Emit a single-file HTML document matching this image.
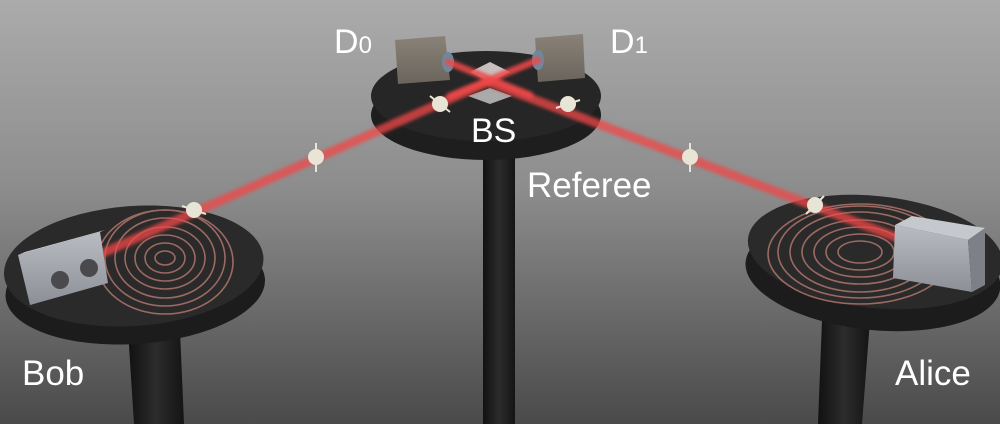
<!DOCTYPE html>
<html><head><meta charset="utf-8"><style>
html,body{margin:0;padding:0;}
body{width:1000px;height:424px;overflow:hidden;}
text{font-family:"Liberation Sans",sans-serif;fill:#fff;}
</style></head><body>
<svg width="1000" height="424" viewBox="0 0 1000 424" xmlns="http://www.w3.org/2000/svg">
<defs>
<linearGradient id="bg" x1="0" y1="0" x2="0" y2="1">
<stop offset="0" stop-color="#ababab"/><stop offset="0.45" stop-color="#8c8c8c"/><stop offset="1" stop-color="#4a4a4a"/>
</linearGradient>
<linearGradient id="post" x1="0" x2="1"><stop offset="0" stop-color="#111"/><stop offset="0.5" stop-color="#2c2c2c"/><stop offset="1" stop-color="#141414"/></linearGradient>
<linearGradient id="box" x1="0" y1="0" x2="0" y2="1"><stop offset="0" stop-color="#b9bcc2"/><stop offset="1" stop-color="#8c9096"/></linearGradient>
<linearGradient id="det" x1="0" y1="0" x2="0" y2="1"><stop offset="0" stop-color="#8a8278"/><stop offset="1" stop-color="#6a645c"/></linearGradient>
<filter id="glow" x="-10%" y="-10%" width="120%" height="120%"><feGaussianBlur stdDeviation="1.5"/></filter>
</defs>
<rect width="1000" height="424" fill="url(#bg)"/>
<!-- posts -->
<rect x="483" y="150" width="32" height="274" fill="url(#post)"/>
<polygon points="128,330 180,330 184,424 134,424" fill="url(#post)"/>
<polygon points="822,320 870,320 862,424 818,424" fill="url(#post)"/>
<!-- referee table -->
<ellipse cx="486" cy="115" rx="115" ry="45" fill="#1e1e1e"/>
<ellipse cx="486" cy="96" rx="115" ry="45" fill="#262626"/>
<!-- bob table -->
<g transform="rotate(-4 134 270)">
<ellipse cx="134" cy="288" rx="130" ry="56" fill="#1c1c1c"/>
<ellipse cx="134" cy="266" rx="130" ry="60" fill="#2a2a2a"/>
</g>
<g stroke="#b87a70" stroke-width="1.6" fill="none" opacity="0.8">
<ellipse cx="165" cy="258" rx="50" ry="40"/><ellipse cx="165" cy="258" rx="40" ry="31"/><ellipse cx="165" cy="258" rx="30" ry="23"/><ellipse cx="165" cy="258" rx="20" ry="15"/><ellipse cx="165" cy="258" rx="10" ry="7"/><ellipse cx="165" cy="258" rx="60" ry="48"/><ellipse cx="165" cy="262" rx="68" ry="52"/>
</g>
<!-- alice table -->
<g transform="rotate(6 875 255)">
<ellipse cx="875" cy="275" rx="128" ry="55" fill="#1c1c1c"/>
<ellipse cx="875" cy="252" rx="128" ry="56" fill="#2a2a2a"/>
</g>
<g stroke="#b87a70" stroke-width="1.6" fill="none" opacity="0.8">
<ellipse cx="860" cy="252" rx="70" ry="40"/><ellipse cx="860" cy="252" rx="58" ry="32"/><ellipse cx="860" cy="252" rx="46" ry="25"/><ellipse cx="860" cy="252" rx="34" ry="18"/><ellipse cx="860" cy="252" rx="22" ry="11"/><ellipse cx="860" cy="252" rx="82" ry="46"/><ellipse cx="860" cy="254" rx="92" ry="50"/>
</g>
<!-- BS -->
<polygon points="490,62 510,72 490,82 470,72" fill="#c8c0c0"/>
<polygon points="490,88 512,96 490,104 468,96" fill="#aaa"/>
<!-- detectors -->
<polygon points="395,40 445,36 450,80 398,84" fill="url(#det)"/>
<ellipse cx="448" cy="62" rx="6" ry="10" fill="#6a8aa0"/>
<polygon points="535,38 583,34 585,78 538,82" fill="url(#det)"/>
<ellipse cx="538" cy="60" rx="6" ry="10" fill="#6a8aa0"/>
<!-- beams -->
<g stroke="#f04848" stroke-linecap="round" filter="url(#glow)">
<line x1="105" y1="252" x2="488" y2="82" stroke-width="9" opacity="0.75"/>
<line x1="898" y1="238" x2="488" y2="82" stroke-width="9" opacity="0.75"/>
<line x1="448" y1="62" x2="530" y2="95" stroke-width="7" opacity="0.85"/>
<line x1="538" y1="60" x2="450" y2="96" stroke-width="7" opacity="0.85"/>
</g>
<!-- polarization markers -->
<g fill="#e8e4d6">
<circle cx="194" cy="210" r="8"/><circle cx="316" cy="157" r="8"/><circle cx="440" cy="104" r="8"/>
<circle cx="568" cy="104" r="8"/><circle cx="690" cy="157" r="8"/><circle cx="815" cy="205" r="8"/>
</g>
<g stroke="#e8e4d6" stroke-width="2">
<line x1="182" y1="206" x2="206" y2="214"/><line x1="316" y1="143" x2="316" y2="172"/><line x1="430" y1="96" x2="450" y2="112"/>
<line x1="556" y1="108" x2="580" y2="100"/><line x1="690" y1="143" x2="690" y2="172"/><line x1="806" y1="214" x2="824" y2="196"/>
</g>
<!-- Bob box -->
<polygon points="18,255 100,232 108,283 30,305" fill="url(#box)"/>
<polygon points="18,255 100,232 105,230 25,252" fill="#cfd2d6"/>
<circle cx="60" cy="280" r="9" fill="#4a4a4e"/><circle cx="89" cy="268" r="9" fill="#4a4a4e"/>
<!-- Alice box -->
<polygon points="895,225 968,240 972,292 893,278" fill="url(#box)"/>
<polygon points="968,240 985,228 985,285 972,292" fill="#7d8086"/>
<polygon points="895,225 912,216 985,228 968,240" fill="#c5c8cc"/>
<!-- labels -->
<text x="334" y="53" font-size="34">D<tspan font-size="24">0</tspan></text>
<text x="610" y="53" font-size="34">D<tspan font-size="24">1</tspan></text>
<text x="471" y="142" font-size="34">BS</text>
<text x="527" y="197" font-size="35">Referee</text>
<text x="22" y="385" font-size="35">Bob</text>
<text x="895" y="385" font-size="35">Alice</text>
</svg>
</body></html>
